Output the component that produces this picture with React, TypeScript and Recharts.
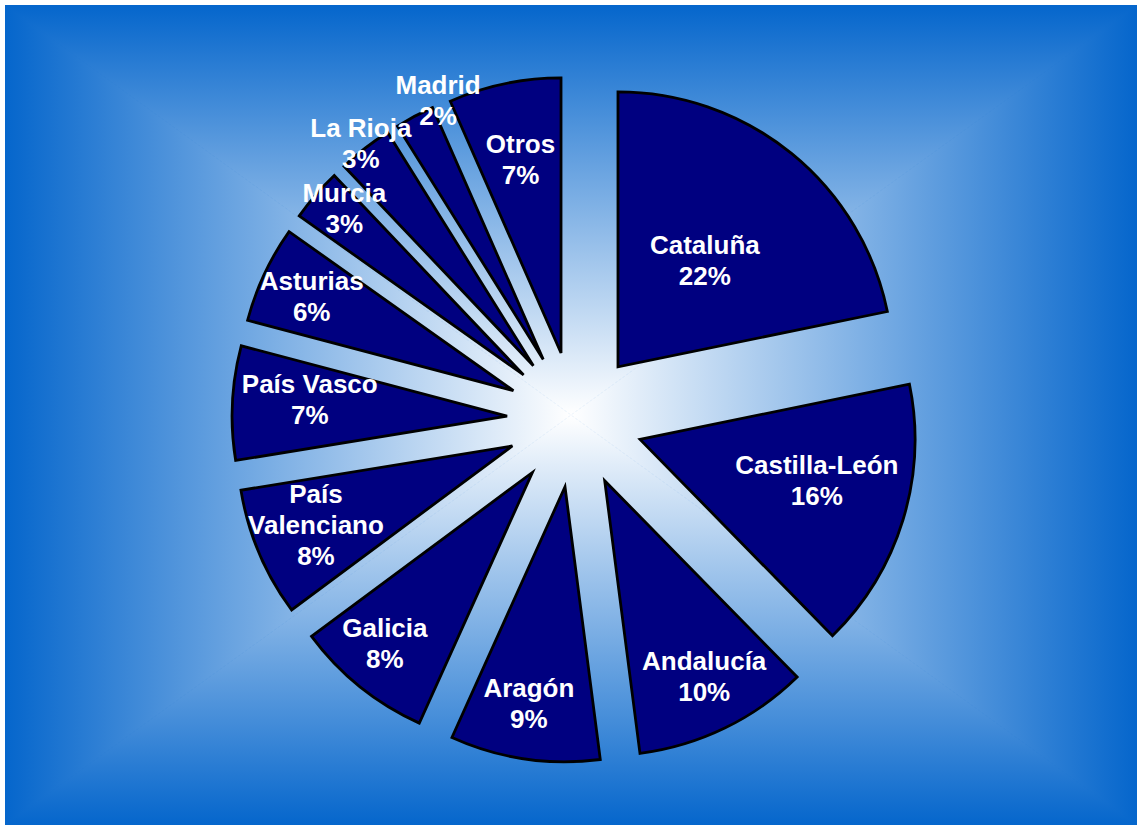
import React from 'react';
import { PieChart, Pie, Cell } from 'recharts';

// ---- data ----
const regions = [
  'Cataluña',
  'Castilla-León',
  'Andalucía',
  'Aragón',
  'Galicia',
  'País Valenciano',
  'País Vasco',
  'Asturias',
  'Murcia',
  'La Rioja',
  'Madrid',
  'Otros',
];
const shares = [21.8, 15.9, 10.3, 8.8, 8.1, 7.6, 6.7, 5.7, 3.1, 3.2, 2.3, 6.6];

// ---- layout / style ----
const W = 1132;
const H = 820;
const CX = 570;
const CY = 414.5;
const R = 275;
const EXPLODE = 68;
const labelRadiusFactor = [0.5, 0.66, 0.8, 0.8, 0.82, 0.77, 0.72, 0.81, 0.89, 1.022, 1.017, 0.717];
const labelAngleShift = [0, -4, -1, 1, 2, 1, 2, 0, 2, -0.1, 5.8, 0];
const EDGE_BLUE = '#0566CC';
const SLICE = '#000080';
const FONT = "'Liberation Sans', Arial, sans-serif";

const data = regions.map((name, i) => ({ name, value: shares[i] }));
const total = shares.reduce((a, b) => a + b, 0);

const midClockDeg = (k: number) => {
  let before = 0;
  for (let i = 0; i < k; i++) before += shares[i];
  return ((before + shares[k] / 2) / total) * 360;
};

const RAD = Math.PI / 180;

const labelLines = (name: string) =>
  name.length > 13 && name.includes(' ') ? name.split(' ') : [name];

const makeLabel = (k: number) => (props: any) => {
  if (props.index !== k) return null;
  const ang = (props.midAngle - labelAngleShift[k]) * RAD;
  const r = props.outerRadius * labelRadiusFactor[k];
  const x = props.cx + r * Math.cos(ang);
  const y = props.cy - r * Math.sin(ang);
  const pct = Math.round(props.percent * 100) + '%';
  const lines = [...labelLines(props.name), pct];
  const lh = 31;
  const y0 = y - ((lines.length - 1) * lh) / 2 + 9;
  return (
    <text
      key={`lbl-${k}`}
      x={x}
      y={y0}
      textAnchor="middle"
      fill="#FFFFFF"
      fontSize={26}
      fontWeight="bold"
      fontFamily={FONT}
    >
      {lines.map((t, i) => (
        <tspan key={i} x={x} y={y0 + i * lh}>
          {t}
        </tspan>
      ))}
    </text>
  );
};

const Background = () => (
  <svg width={W} height={H} style={{ position: 'absolute', left: 0, top: 0 }}>
    <defs>
      <linearGradient id="gT" gradientUnits="userSpaceOnUse" x1={0} y1={0} x2={0} y2={H / 2}>
        <stop offset="0" stopColor={EDGE_BLUE} />
        <stop offset="1" stopColor="#FFFFFF" />
      </linearGradient>
      <linearGradient id="gB" gradientUnits="userSpaceOnUse" x1={0} y1={H} x2={0} y2={H / 2}>
        <stop offset="0" stopColor={EDGE_BLUE} />
        <stop offset="1" stopColor="#FFFFFF" />
      </linearGradient>
      <linearGradient id="gL" gradientUnits="userSpaceOnUse" x1={0} y1={0} x2={W / 2} y2={0}>
        <stop offset="0" stopColor={EDGE_BLUE} />
        <stop offset="1" stopColor="#FFFFFF" />
      </linearGradient>
      <linearGradient id="gR" gradientUnits="userSpaceOnUse" x1={W} y1={0} x2={W / 2} y2={0}>
        <stop offset="0" stopColor={EDGE_BLUE} />
        <stop offset="1" stopColor="#FFFFFF" />
      </linearGradient>
    </defs>
    <rect x={0} y={0} width={W} height={H} fill={EDGE_BLUE} />
    <polygon points={`0,0 ${W},0 ${W / 2},${H / 2}`} fill="url(#gT)" stroke="url(#gT)" strokeWidth={1} />
    <polygon points={`0,${H} ${W},${H} ${W / 2},${H / 2}`} fill="url(#gB)" stroke="url(#gB)" strokeWidth={1} />
    <polygon points={`0,0 0,${H} ${W / 2},${H / 2}`} fill="url(#gL)" />
    <polygon points={`${W},0 ${W},${H} ${W / 2},${H / 2}`} fill="url(#gR)" />
  </svg>
);

export default function App() {
  return (
    <div
      style={{
        position: 'absolute',
        left: 5,
        top: 5,
        width: W,
        height: H,
      }}
    >
      <Background />
      <div style={{ position: 'absolute', left: 0, top: 0 }}>
        <PieChart width={W} height={H} margin={{ top: 0, right: 0, bottom: 0, left: 0 }}>
          {regions.map((_, k) => {
            const m = midClockDeg(k) * RAD;
            const cx = CX + EXPLODE * Math.sin(m);
            const cy = CY - EXPLODE * Math.cos(m);
            return (
              <Pie
                key={`pie-${k}`}
                data={data}
                dataKey="value"
                nameKey="name"
                cx={cx}
                cy={cy}
                innerRadius={0}
                outerRadius={R}
                startAngle={90}
                endAngle={-270}
                isAnimationActive={false}
                labelLine={false}
                label={makeLabel(k)}
              >
                {data.map((_, i) => (
                  <Cell
                    key={`c-${i}`}
                    fill={i === k ? SLICE : 'none'}
                    stroke={i === k ? '#000000' : 'none'}
                    strokeWidth={i === k ? 2.8 : 0}
                  />
                ))}
              </Pie>
            );
          })}
        </PieChart>
      </div>
    </div>
  );
}
